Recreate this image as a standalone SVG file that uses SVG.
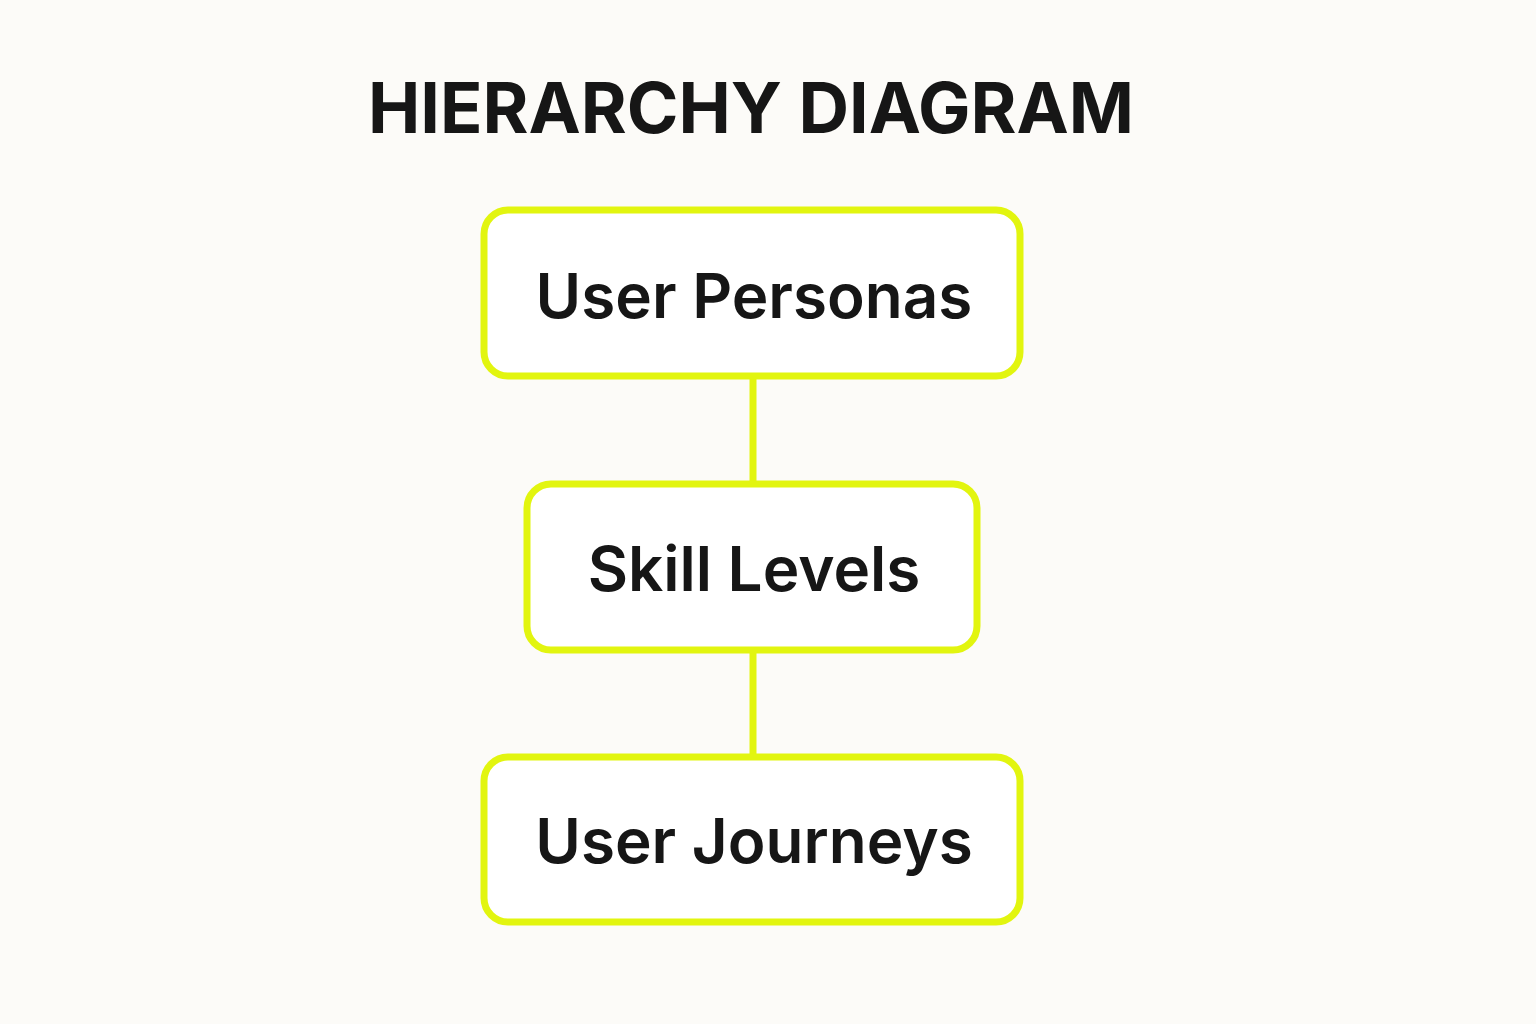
<svg xmlns="http://www.w3.org/2000/svg" width="1536" height="1024" viewBox="0 0 1536 1024">
<style>
.box{fill:#ffffff;stroke:#e2f50f;stroke-width:7}
.lbl{font-family:Inter,"Liberation Sans",sans-serif;font-size:62px;font-weight:600;fill:#161616;text-anchor:middle}
.ttl{font-family:Inter,"Liberation Sans",sans-serif;font-size:70px;font-weight:700;fill:#161616;text-anchor:middle}
.con{stroke:#e2f50f;stroke-width:7;fill:none}
</style>
<rect width="1536" height="1024" fill="#fcfbf8"/>
<text class="ttl" x="751" y="133">HIERARCHY DIAGRAM</text>
<g id="connectors">
<line class="con" x1="753" y1="377" x2="753" y2="484"/>
<line class="con" x1="753" y1="651" x2="753" y2="757"/>
</g>
<g id="n1"><rect class="box" x="484" y="210" width="536" height="166" rx="24"/><text class="lbl" x="754" y="318">User Personas</text></g>
<g id="n2"><rect class="box" x="527" y="484" width="450" height="166" rx="24"/><text class="lbl" x="754" y="591">Skill Levels</text></g>
<g id="n3"><rect class="box" x="484" y="757" width="536" height="165" rx="24"/><text class="lbl" x="754" y="863">User Journeys</text></g>
</svg>
